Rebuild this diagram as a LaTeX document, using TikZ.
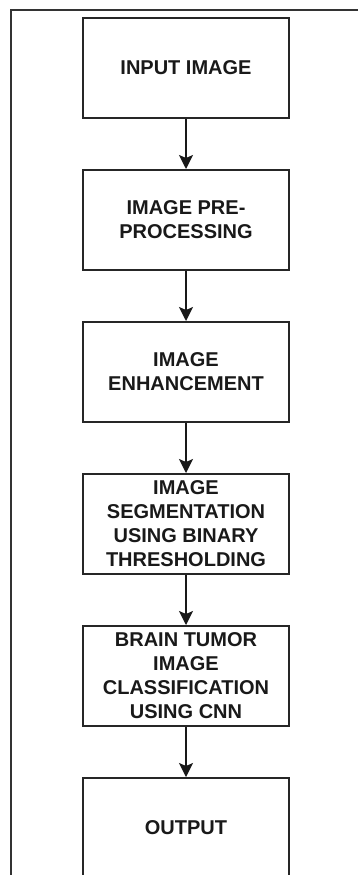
\documentclass[tikz,border=0pt]{standalone}
\usepackage{fontspec}
\setmainfont{Liberation Sans}
\usepackage{tikz}
\usetikzlibrary{arrows.meta,positioning}

\begin{document}
\begin{tikzpicture}[x=1pt,y=1pt]
		\tikzstyle{stage}=[draw=black!85,line width=2pt,minimum width=206pt,minimum height=100pt,inner sep=0pt,align=center,font=\fontsize{20}{24}\selectfont\bfseries,text=black!90]
		\tikzstyle{flow}=[line width=1.5pt,black!90,arrows={-Stealth[length=14pt,width=14pt,inset=3pt]}]
		\tikzstyle{frame}=[line width=2.2pt,black!80]
		
		\useasboundingbox (0,0) rectangle (358,-875);
		\draw[frame] (11,-880) -- (11,-10) -- (365,-10);
		
		\node[stage] (input) at (186,-68) {INPUT IMAGE};
		\node[stage,below=50pt of input] (prep) {IMAGE PRE-\\PROCESSING};
		\node[stage,below=50pt of prep] (enh) {IMAGE\\ENHANCEMENT};
		\node[stage,below=50pt of enh] (seg) {IMAGE\\SEGMENTATION\\USING BINARY\\THRESHOLDING};
		\node[stage,below=50pt of seg] (cls) {BRAIN TUMOR\\IMAGE\\CLASSIFICATION\\USING CNN};
		\node[stage,below=50pt of cls] (out) {OUTPUT};
		
		\draw[flow] (input) -- (prep);
		\draw[flow] (prep) -- (enh);
		\draw[flow] (enh) -- (seg);
		\draw[flow] (seg) -- (cls);
		\draw[flow] (cls) -- (out);
\end{tikzpicture}
\end{document}
